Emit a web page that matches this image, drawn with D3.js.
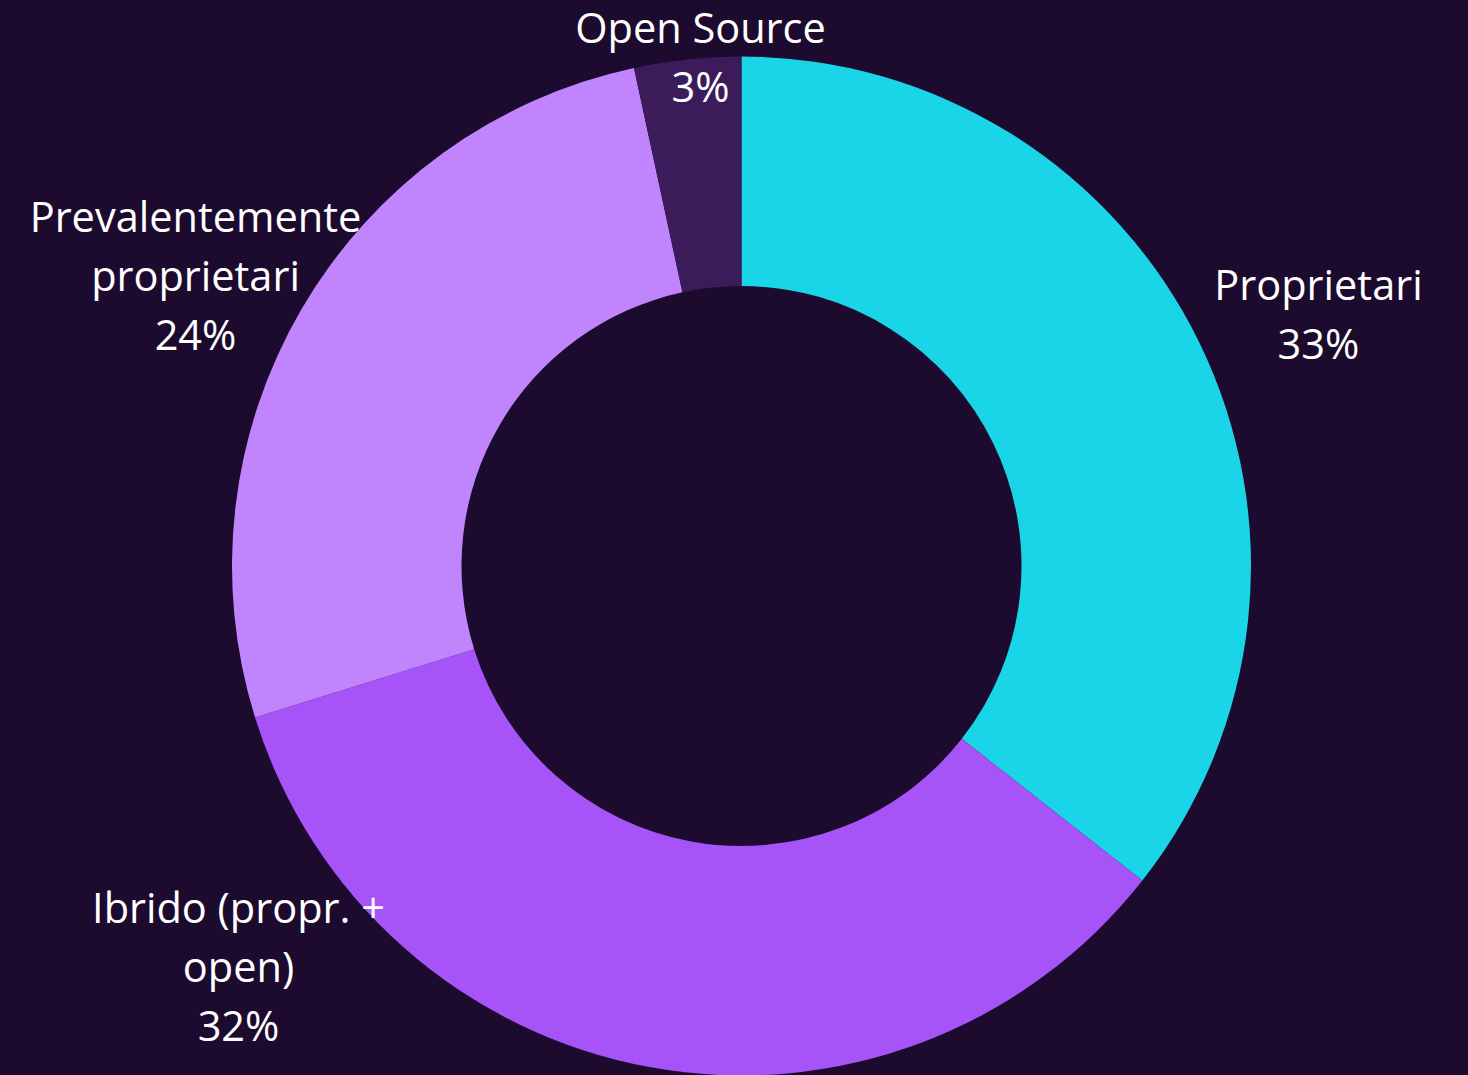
<!DOCTYPE html>
<html><head><meta charset="utf-8">
<script src="https://cdn.jsdelivr.net/npm/d3@7"></script>
<style>
html,body{margin:0;padding:0;background:#1c0b2e;}
svg{display:block;}
</style></head>
<body>
<svg id="chart" width="1468" height="1075"></svg>
<script>
const categories = ["Proprietari", "Ibrido (propr. + open)", "Prevalentemente proprietari", "Open Source"];
const values = [32.6, 31.7, 24.2, 3.1];
const labelLines = [["Proprietari"], ["Ibrido (propr. +", "open)"], ["Prevalentemente", "proprietari"], ["Open Source"]];
const colors = ["#1ad5e8", "#a654f7", "#c084fc", "#3c1b5b"];
// label anchors (first baseline), relative to chart centre
const labelLayout = [[577, -266], [-503, 357], [-546, -334], [-41, -523]];

const W = 1468, H = 1075;
const cx = 741.5, cy = 566, rOuter = 509.5, rInner = 280;
const svg = d3.select("#chart");
svg.append("rect").attr("width", W).attr("height", H).attr("fill", "#1c0b2e");
const g = svg.append("g").attr("transform", `translate(${cx},${cy})`);

const data = categories.map((c, i) => ({name: c, value: values[i], i}));
const pie = d3.pie().value(d => d.value).sort(null);
const arc = d3.arc().innerRadius(rInner).outerRadius(rOuter);
const color = d3.scaleOrdinal().domain(categories).range(colors);
const arcs = pie(data);
g.selectAll("path").data(arcs).join("path")
  .attr("d", arc).attr("fill", d => color(d.data.name));

const fmt = d3.format(".0%");
const lh = 59;
arcs.forEach(a => {
  const i = a.data.i;
  const lines = labelLines[i].concat([fmt(a.data.value / 100)]);
  const t = g.append("text")
    .attr("text-anchor", "middle")
    .attr("fill", "#ffffff")
    .style("font-family", "'Open Sans', sans-serif")
    .style("font-size", "41.5px");
  lines.forEach((l, k) => {
    t.append("tspan").attr("x", labelLayout[i][0]).attr("y", labelLayout[i][1] + k * lh).text(l);
  });
});
</script>
</body></html>
